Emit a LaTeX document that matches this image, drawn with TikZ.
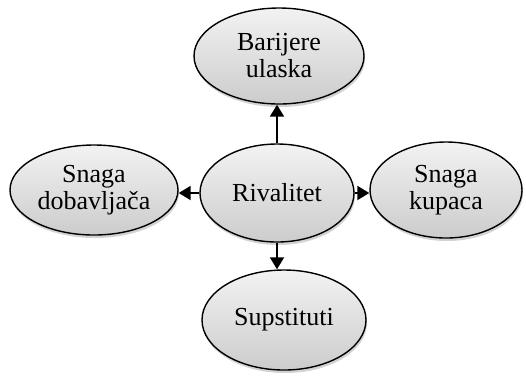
\documentclass[tikz,border=0pt]{standalone}
\usepackage{fontspec}
\setmainfont{Liberation Serif}
\usetikzlibrary{shapes.geometric,arrows.meta,shadows}
\begin{document}
\begin{tikzpicture}[x=1pt,y=-1pt,
  oval/.style={ellipse,draw=black,line width=1.4pt,top color=gray!10,bottom color=gray!40,
    minimum width=#1,font=\fontsize{26}{27}\selectfont,align=center,inner sep=0pt,
    drop shadow={shadow xshift=1pt,shadow yshift=-3pt,opacity=0.35}},
  conn/.style={line width=2pt,-{Triangle[length=12pt,width=14pt]}}]
\useasboundingbox (0,0) rectangle (526,376);
\node[oval=170pt,minimum height=96pt] (top) at (279,56) {Barijere\\ulaska};
\node[oval=154pt,minimum height=98pt] (mid) at (277,193) {Rivalitet};
\node[oval=168pt,minimum height=90pt] (left) at (94,190) {Snaga\\dobavljača};
\node[oval=152pt,minimum height=96pt] (right) at (446,190) {Snaga\\kupaca};
\node[oval=164pt,minimum height=100pt] (bot) at (284,320) {Supstituti};
\draw[conn] (mid.north) -- (mid.north |- top.south);
\draw[conn] (mid.south) -- (mid.south |- bot.north);
\draw[conn] (mid.west) -- (left.east |- mid.west);
\draw[conn] (mid.east) -- (right.west |- mid.east);
\end{tikzpicture}
\end{document}
